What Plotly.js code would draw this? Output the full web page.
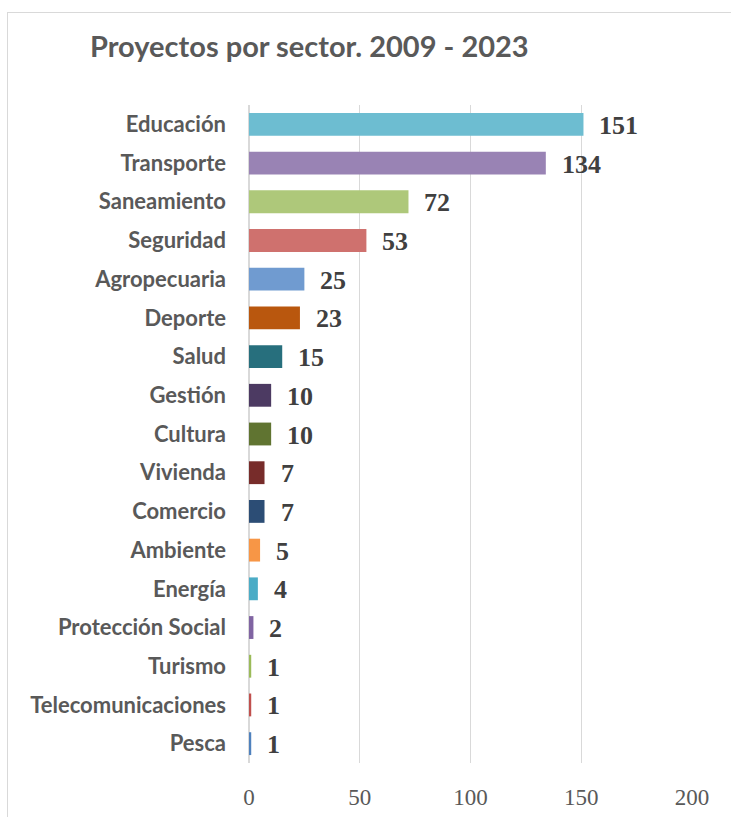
<!DOCTYPE html>
<html>
<head>
<meta charset="utf-8">
<script src="https://cdn.plot.ly/plotly-3.0.1.min.js"></script>
<style>
  html, body { margin: 0; padding: 0; background: #fff; }
  #wrap { position: relative; width: 731px; height: 817px; overflow: hidden; }
  #chart { position: absolute; left: 0; top: 0; width: 731px; height: 817px; }
  #frame { position: absolute; left: 7px; top: 12px; width: 740px; height: 820px;
           border-left: 1px solid #d9d9d9; border-top: 1px solid #d9d9d9; pointer-events: none; }
</style>
</head>
<body>
<div id="wrap"><div id="chart"></div><div id="frame"></div></div>
<script>
const sectors = ["Educación", "Transporte", "Saneamiento", "Seguridad", "Agropecuaria", "Deporte",
  "Salud", "Gestión", "Cultura", "Vivienda", "Comercio", "Ambiente", "Energía",
  "Protección Social", "Turismo", "Telecomunicaciones", "Pesca"];
const projects = [151, 134, 72, 53, 25, 23, 15, 10, 10, 7, 7, 5, 4, 2, 1, 1, 1];
const barColors = ["#6DBDD1", "#9983B4", "#AEC87A", "#CF716E", "#709BD0", "#B9570E",
  "#276F7D", "#4C3A62", "#607431", "#772C2A", "#2C4D75", "#F79646", "#4BACC6",
  "#8064A2", "#9BBB59", "#C0504D", "#4F81BD"];
const xTicks = [0, 50, 100, 150, 200];

const trace = {
  type: "bar",
  orientation: "h",
  x: projects,
  y: sectors,
  marker: { color: barColors },
  hoverinfo: "x+y"
};

const annotations = sectors.map((s, i) => ({
  x: projects[i], y: s, xref: "x", yref: "y",
  text: String(projects[i]), showarrow: false,
  xanchor: "left", xshift: 14, yshift: -1,
  font: { family: "Liberation Serif, serif", size: 26, color: "#404040", weight: "bold" }
}));

const layout = {
  width: 731, height: 817,
  margin: { l: 248.5, r: 38.5, t: 105, b: 54, pad: 0 },
  paper_bgcolor: "#ffffff", plot_bgcolor: "#ffffff",
  bargap: 0.41,
  showlegend: false,
  title: {
    text: "<b>Proyectos por sector. 2009 - 2023</b>",
    x: 90 / 731, xanchor: "left", xref: "container",
    y: 1 - 47 / 817, yanchor: "middle", yref: "container",
    font: { family: "Lato, 'Open Sans', sans-serif", size: 29, color: "#595959" }
  },
  xaxis: {
    range: [0, 200], tickvals: xTicks, ticktext: xTicks.map(String),
    showgrid: true, gridcolor: "#d9d9d9", gridwidth: 1.3,
    zeroline: true, zerolinecolor: "#d9d9d9", zerolinewidth: 1.3,
    showline: false, ticks: "",
    ticklabelstandoff: 18,
    tickfont: { family: "Liberation Serif, serif", size: 23, color: "#595959" },
    fixedrange: true
  },
  yaxis: {
    type: "category", categoryarray: sectors, categoryorder: "array",
    autorange: "reversed",
    showgrid: false, zeroline: false, showline: false, ticks: "",
    ticklabelstandoff: 22,
    tickfont: { family: "Lato, 'Open Sans', sans-serif", size: 22, color: "#595959", weight: "bold" },
    fixedrange: true
  },
  annotations: annotations
};

Plotly.newPlot("chart", [trace], layout, { displayModeBar: false, staticPlot: true });
</script>
</body>
</html>
